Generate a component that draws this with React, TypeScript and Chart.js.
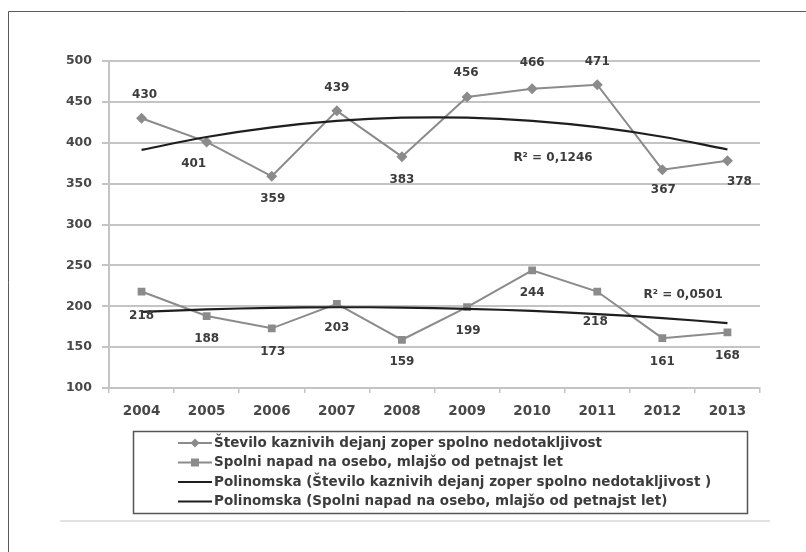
import React, { useEffect, useRef } from "react";
import { Chart, registerables } from "chart.js";

Chart.register(...registerables);

const years = ["2004", "2005", "2006", "2007", "2008", "2009", "2010", "2011", "2012", "2013"];
const crimesTotal = [430, 401, 359, 439, 383, 456, 466, 471, 367, 378];
const assaultUnder15 = [218, 188, 173, 203, 159, 199, 244, 218, 161, 168];
const yMin = 100;
const yMax = 500;
const yStep = 50;
const legendLabels = [
  "Število kaznivih dejanj zoper spolno nedotakljivost",
  "Spolni napad na osebo, mlajšo od petnajst let",
  "Polinomska (Število kaznivih dejanj zoper spolno nedotakljivost )",
  "Polinomska (Spolni napad na osebo, mlajšo od petnajst let)",
];
const r2Labels = ["R² = 0,1246", "R² = 0,0501"];
// anchor of R² labels in data space: [category index, value]
const r2Anchors = [
  [6.32, 381.5],
  [8.32, 213.8],
];

// label offsets (px) relative to each point
const labelOffsets1 = [[3, -23], [-13, 22], [1, 23], [0, -23], [0, 23], [-1, -24], [0, -26], [0, -23], [1, 20], [12, 21]];
const labelOffsets2 = [[0, 24], [0, 23], [1, 24], [0, 24], [0, 22], [1, 24], [0, 23], [-2, 30], [0, 24], [0, 23]];

function quadFit(values: number[]): number[] {
  const n = values.length;
  const xs = values.map((_, i) => i);
  let s0 = n, s1 = 0, s2 = 0, s3 = 0, s4 = 0, t0 = 0, t1 = 0, t2 = 0;
  xs.forEach((x, i) => {
    const y = values[i];
    s1 += x; s2 += x * x; s3 += x * x * x; s4 += x * x * x * x;
    t0 += y; t1 += x * y; t2 += x * x * y;
  });
  const M = [
    [s0, s1, s2, t0],
    [s1, s2, s3, t1],
    [s2, s3, s4, t2],
  ];
  for (let i = 0; i < 3; i++) {
    for (let j = i + 1; j < 3; j++) {
      const f = M[j][i] / M[i][i];
      for (let k = i; k < 4; k++) M[j][k] -= f * M[i][k];
    }
  }
  const c = M[2][3] / M[2][2];
  const b = (M[1][3] - M[1][2] * c) / M[1][1];
  const a = (M[0][3] - M[0][1] * b - M[0][2] * c) / M[0][0];
  return xs.map((x) => a + b * x + c * x * x);
}

const TEXT = "#3c3c3c";
const TICK = "#484848";
const SERIES = "#8b8b8b";
const GRID = "#c4c4c4";
const FONT = "'DejaVu Sans', sans-serif";

export default function App() {
  const ref = useRef<HTMLCanvasElement | null>(null);
  useEffect(() => {
    if (!ref.current) return;
    const overlay = {
      id: "overlay",
      afterDatasetsDraw(chart: any) {
        const ctx = chart.ctx;
        const xs = chart.scales.x;
        const ys = chart.scales.y;
        ctx.save();
        ctx.font = `bold 12px ${FONT}`;
        ctx.fillStyle = TEXT;
        ctx.textAlign = "center";
        ctx.textBaseline = "middle";
        [[0, crimesTotal, labelOffsets1], [1, assaultUnder15, labelOffsets2]].forEach(([di, vals, offs]: any) => {
          const meta = chart.getDatasetMeta(di);
          meta.data.forEach((pt: any, i: number) => {
            ctx.fillText(String(vals[i]), pt.x + offs[i][0], pt.y + offs[i][1]);
          });
        });
        r2Labels.forEach((t, i) => {
          const px = xs.left + (r2Anchors[i][0] + 0.5) * (xs.width / years.length);
          const py = ys.getPixelForValue(r2Anchors[i][1]);
          ctx.fillText(t, px, py);
        });
        ctx.restore();
      },
      afterDraw(chart: any) {
        const ctx = chart.ctx;
        ctx.save();
        ctx.strokeStyle = "#5a5a5a";
        ctx.lineWidth = 1;
        ctx.beginPath();
        ctx.moveTo(8.5, 560);
        ctx.lineTo(8.5, 11.5);
        ctx.lineTo(810, 11.5);
        ctx.stroke();
        ctx.strokeStyle = "#e2e2e2";
        ctx.lineWidth = 2;
        ctx.beginPath();
        ctx.moveTo(60, 521);
        ctx.lineTo(770, 521);
        ctx.stroke();
        const bx = 133.5, by = 431.5, bw = 614, bh = 82;
        ctx.strokeStyle = "#555";
        ctx.lineWidth = 1.5;
        ctx.strokeRect(bx, by, bw, bh);
        const rows = [443, 462.5, 482, 501.5];
        ctx.font = `bold 13.5px ${FONT}`;
        ctx.textAlign = "left";
        ctx.textBaseline = "middle";
        legendLabels.forEach((lab, i) => {
          const y = rows[i];
          ctx.strokeStyle = i < 2 ? SERIES : "#1e1e1e";
          ctx.lineWidth = 2;
          ctx.beginPath();
          ctx.moveTo(178, y);
          ctx.lineTo(212, y);
          ctx.stroke();
          ctx.fillStyle = SERIES;
          if (i === 0) {
            ctx.beginPath();
            ctx.moveTo(195, y - 4.5);
            ctx.lineTo(199.5, y);
            ctx.lineTo(195, y + 4.5);
            ctx.lineTo(190.5, y);
            ctx.closePath();
            ctx.fill();
          } else if (i === 1) {
            ctx.fillRect(191, y - 4, 8, 8);
          }
          ctx.fillStyle = TEXT;
          ctx.fillText(lab, 214, y);
        });
        ctx.restore();
      },
    };

    const chart = new Chart(ref.current, {
      type: "line",
      data: {
        labels: years,
        datasets: [
          {
            label: legendLabels[0],
            data: crimesTotal,
            borderColor: SERIES,
            backgroundColor: SERIES,
            borderWidth: 2,
            pointStyle: "rectRot",
            pointRadius: 5.5,
            pointBorderWidth: 0,
            order: 2,
          },
          {
            label: legendLabels[1],
            data: assaultUnder15,
            borderColor: SERIES,
            backgroundColor: SERIES,
            borderWidth: 2,
            pointStyle: "rect",
            pointRadius: 5.5,
            pointBorderWidth: 0,
            order: 2,
          },
          {
            label: legendLabels[2],
            data: quadFit(crimesTotal),
            borderColor: "#1e1e1e",
            borderWidth: 2.2,
            pointRadius: 0,
            tension: 0.4,
            order: 1,
          },
          {
            label: legendLabels[3],
            data: quadFit(assaultUnder15),
            borderColor: "#1e1e1e",
            borderWidth: 2.2,
            pointRadius: 0,
            tension: 0.4,
            order: 1,
          },
        ],
      },
      options: {
        responsive: false,
        animation: false,
        layout: { padding: { left: 49, right: 46, top: 61, bottom: 134 } },
        plugins: { legend: { display: false }, tooltip: { enabled: false } },
        scales: {
          x: {
            offset: true,
            afterFit: (s: any) => { s.height = 30; },
            grid: { offset: true, drawOnChartArea: false, drawTicks: true, tickLength: 5, color: GRID, lineWidth: 1.5 },
            border: { display: true, color: GRID, width: 2 },
            ticks: { color: TICK, font: { family: FONT, size: 13.5, weight: "bold" }, padding: 10, maxRotation: 0 },
          },
          y: {
            min: yMin,
            max: yMax,
            afterFit: (s: any) => { s.width = 60; },
            grid: { color: GRID, lineWidth: 2, tickLength: 7 },
            border: { display: true, color: GRID, width: 2 },
            ticks: { stepSize: yStep, color: TICK, font: { family: FONT, size: 12.5, weight: "bold" }, padding: 10 },
          },
        },
      },
      plugins: [overlay],
    } as any);
    return () => chart.destroy();
  }, []);
  return (
    <div style={{ position: "fixed", left: 0, top: 0, width: 806, height: 552, background: "#fff" }}>
      <canvas ref={ref} width={806} height={552} style={{ width: 806, height: 552, display: "block" }} />
    </div>
  );
}
